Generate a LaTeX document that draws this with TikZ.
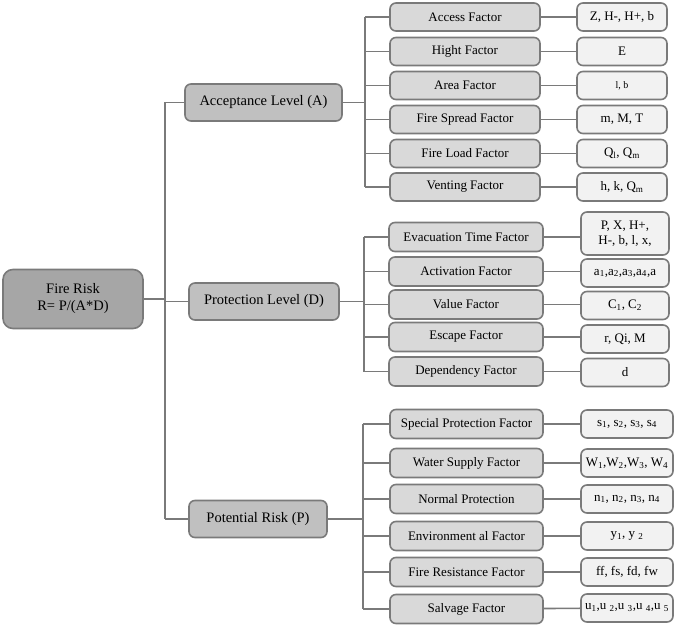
\documentclass[tikz,border=0pt]{standalone}
\usepackage{fontspec}
\setmainfont{Liberation Serif}
\definecolor{edgegray}{HTML}{7A7A7A}
\definecolor{rootgray}{HTML}{A6A6A6}
\definecolor{levelgray}{HTML}{C0C0C0}
\definecolor{factorgray}{HTML}{D9D9D9}
\definecolor{valuegray}{HTML}{F2F2F2}
\tikzset{
  box/.style={draw=edgegray, line width=1.6pt, rounded corners=6pt, align=center, inner sep=0pt,
    font=\fontsize{13}{15}\selectfont},
  rootbox/.style={box, fill=rootgray, rounded corners=10pt, minimum width=140pt, minimum height=59pt,
    font=\fontsize{14.5}{17}\selectfont},
  levelbox/.style={box, fill=levelgray, minimum height=37pt, font=\fontsize{14.5}{17}\selectfont},
  factorbox/.style={box, fill=factorgray, minimum width=152pt, minimum height=28pt},
  valuebox/.style={box, fill=valuegray, minimum width=90pt, minimum height=28pt},
  conn/.style={draw=edgegray, line width=1.6pt}
}
\begin{document}
\begin{tikzpicture}[x=1pt,y=-1pt]
\useasboundingbox (0,0) rectangle (677,628);
% root and levels
\node[rootbox] (root) at (73,299) {Fire Risk\\R= P/(A*D)};
\node[levelbox, minimum width=157pt] (accept) at (263.5,102.5) {Acceptance Level (A)};
\node[levelbox, minimum width=150pt] (protect) at (264,301.5) {Protection Level (D)};
\node[levelbox, minimum width=138pt] (potential) at (258,519) {Potential Risk (P)};
\coordinate (trunk) at (165,0);
\coordinate (busA) at (365,0);
\coordinate (busD) at (364,0);
\coordinate (busP) at (363,0);

% acceptance level factors
\node[factorbox, minimum width=150pt] (access) at (465,17) {Access Factor};
\node[factorbox, minimum width=150pt] (hight) at (465,51.5) {Hight Factor};
\node[factorbox, minimum width=150pt] (area) at (465,85.5) {Area Factor};
\node[factorbox, minimum width=150pt] (spread) at (465,119.5) {Fire Spread Factor};
\node[factorbox, minimum width=150pt] (load) at (465,153.5) {Fire Load Factor};
\node[factorbox, minimum width=150pt] (venting) at (465,187) {Venting Factor};
\node[valuebox] (vaccess) at (622,17) {Z, H-, H+, b};
\node[valuebox] (vhight) at (622,51.5) {E};
\node[valuebox] (varea) at (622,85.5) {\fontsize{10}{12}\selectfont l, b};
\node[valuebox] (vspread) at (622,119.5) {m, M, T};
\node[valuebox] (vload) at (622,153.5) {Q\textsubscript{l}, Q\textsubscript{m}};
\node[valuebox] (vventing) at (622,187) {h, k, Q\textsubscript{m}};

% protection level factors
\node[factorbox, minimum width=154pt, minimum height=29pt] (evac) at (466,237) {Evacuation Time Factor};
\node[factorbox, minimum width=154pt, minimum height=29pt] (activ) at (466,271.5) {Activation Factor};
\node[factorbox, minimum width=154pt, minimum height=29pt] (value) at (466,304.5) {Value Factor};
\node[factorbox, minimum width=154pt, minimum height=29pt] (escape) at (466,337) {Escape Factor};
\node[factorbox, minimum width=154pt, minimum height=29pt] (depend) at (466,371.5) {Dependency Factor};
\node[valuebox, minimum width=88pt, minimum height=43pt] (vevac) at (625,233.5) {P, X, H+,\\H-, b, l, x,};
\node[valuebox, minimum width=88pt] (vactiv) at (625,273) {a\textsubscript{1},a\textsubscript{2},a\textsubscript{3},a\textsubscript{4},a};
\node[valuebox, minimum width=88pt] (vvalue) at (625,305.5) {C\textsubscript{1}, C\textsubscript{2}};
\node[valuebox, minimum width=88pt] (vescape) at (625,339) {r, Qi, M};
\node[valuebox, minimum width=88pt] (vdepend) at (625,372.5) {d};

% potential risk factors
\node[factorbox, minimum width=153pt, minimum height=29pt] (special) at (466.5,424) {Special Protection Factor};
\node[factorbox, minimum width=153pt, minimum height=29pt] (water) at (466.5,463) {Water Supply Factor};
\node[factorbox, minimum width=153pt, minimum height=29pt] (normal) at (466.5,499) {Normal Protection};
\node[factorbox, minimum width=153pt, minimum height=29pt] (environ) at (466.5,536) {Environment al Factor};
\node[factorbox, minimum width=153pt, minimum height=29pt] (resist) at (466.5,572) {Fire Resistance Factor};
\node[factorbox, minimum width=153pt, minimum height=29pt] (salvage) at (466.5,609) {Salvage Factor};
\node[valuebox, minimum width=92pt] (vspecial) at (627,424) {s\textsubscript{1}, s\textsubscript{2}, s\textsubscript{3}, s\textsubscript{4}};
\node[valuebox, minimum width=92pt] (vwater) at (627,463) {W\textsubscript{1},W\textsubscript{2},W\textsubscript{3}, W\textsubscript{4}};
\node[valuebox, minimum width=92pt] (vnormal) at (627,499) {n\textsubscript{1}, n\textsubscript{2}, n\textsubscript{3}, n\textsubscript{4}};
\node[valuebox, minimum width=92pt] (venviron) at (627,536) {y\textsubscript{1}, y \textsubscript{2}};
\node[valuebox, minimum width=92pt] (vresist) at (627,572) {ff, fs, fd, fw};
\node[valuebox, minimum width=92pt] (vsalvage) at (627,608) {u\textsubscript{1},u \textsubscript{2},u \textsubscript{3},u \textsubscript{4},u \textsubscript{5}};

% tree lines
\draw[conn] (root.east) -- (trunk |- root.east);
\draw[conn] (trunk |- accept.west) -- (trunk |- potential.west);
\draw[conn] (trunk |- accept.west) -- (accept.west) (trunk |- protect.west) -- (protect.west)
  (trunk |- potential.west) -- (potential.west);

\draw[conn] (accept.east) -- (busA |- accept.east);
\draw[conn] (busA |- access.west) -- (busA |- venting.west);
\draw[conn] (busA |- access.west) -- (access.west) (busA |- hight.west) -- (hight.west)
  (busA |- area.west) -- (area.west) (busA |- spread.west) -- (spread.west)
  (busA |- load.west) -- (load.west) (busA |- venting.west) -- (venting.west);

\draw[conn] (protect.east) -- (busD |- protect.east);
\draw[conn] (busD |- evac.west) -- (busD |- depend.west);
\draw[conn] (busD |- evac.west) -- (evac.west) (busD |- activ.west) -- (activ.west)
  (busD |- value.west) -- (value.west) (busD |- escape.west) -- (escape.west)
  (busD |- depend.west) -- (depend.west);

\draw[conn] (potential.east) -- (busP |- potential.east);
\draw[conn] (busP |- special.west) -- (busP |- salvage.west);
\draw[conn] (busP |- special.west) -- (special.west) (busP |- water.west) -- (water.west)
  (busP |- normal.west) -- (normal.west) (busP |- environ.west) -- (environ.west)
  (busP |- resist.west) -- (resist.west) (busP |- salvage.west) -- (salvage.west);

% factor to value
\draw[conn] (access) -- (vaccess) (hight) -- (vhight) (area) -- (varea)
  (spread) -- (vspread) (load) -- (vload) (venting) -- (vventing);
\draw[conn] (evac) -- (evac -| vevac.west) (activ) -- (activ -| vactiv.west) (value) -- (value -| vvalue.west)
  (escape) -- (escape -| vescape.west) (depend) -- (depend -| vdepend.west);
\draw[conn] (special) -- (vspecial) (water) -- (vwater) (normal) -- (vnormal)
  (environ) -- (venviron) (resist) -- (vresist) (salvage) -- (vsalvage);

\end{tikzpicture}
\end{document}
